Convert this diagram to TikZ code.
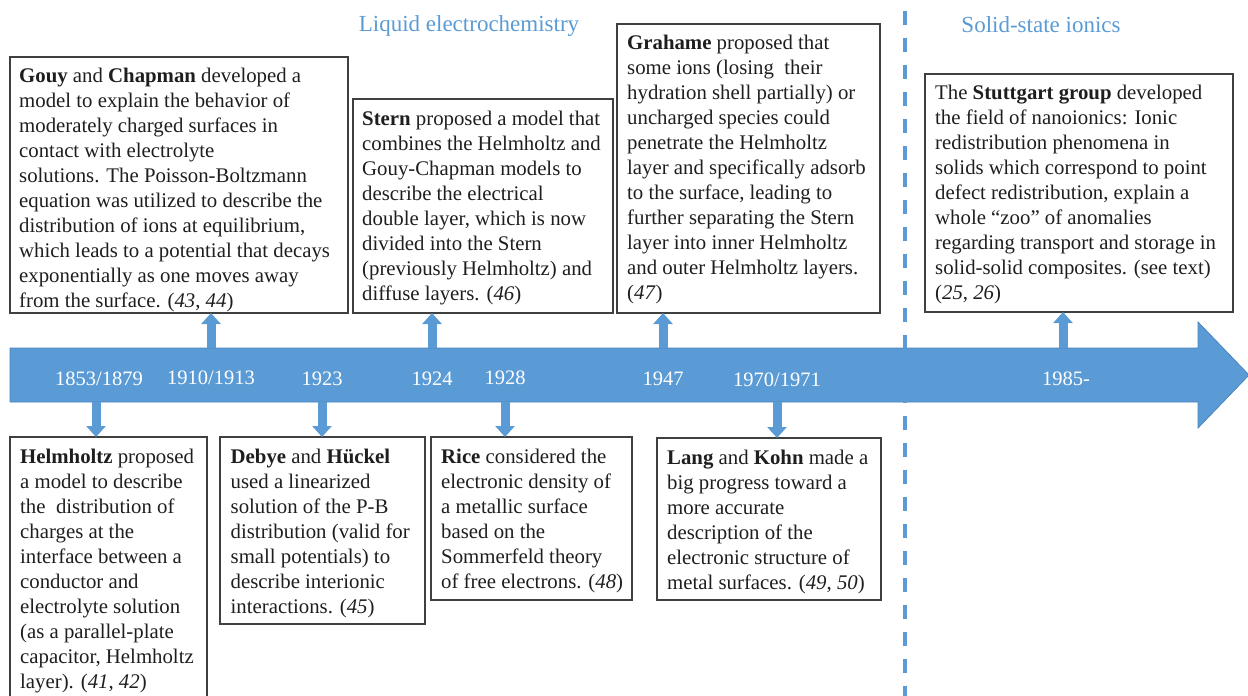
\documentclass[tikz,border=0pt]{standalone}
\usepackage{fontspec}
\setmainfont{Liberation Serif}
\usetikzlibrary{arrows.meta,calc}
\definecolor{barblue}{HTML}{5B9BD5}
\definecolor{barline}{HTML}{4A84BE}
\definecolor{boxline}{HTML}{404040}
\definecolor{txtcol}{HTML}{1E1E1E}
\begin{document}
\begin{tikzpicture}[x=1pt,y=-1pt,
  box/.style={draw=boxline, line width=1.1pt, inner sep=0pt, outer sep=0pt, anchor=north west},
  txt/.style={inner sep=0pt, anchor=north west, align=left, text=txtcol, font=\fontsize{20.8}{25}\selectfont},
  year/.style={text=white, font=\fontsize{20.5}{24}\selectfont, anchor=base, inner sep=0pt},
  title/.style={text=barblue, font=\fontsize{23}{28}\selectfont, anchor=base, inner sep=0pt},
  blk/.style={draw=barblue, line width=9pt, -{Triangle[width=19pt,length=11pt]}},
  divider/.style={draw=barblue, line width=3.5pt, dash pattern=on 14pt off 13pt}
]
\useasboundingbox (0,0) rectangle (1248,696);
\clip (0,0) rectangle (1248,696);

% main timeline arrow
\fill[barblue, draw=barline, line width=0.8pt]
  (10,348) -- (1198,348) -- (1198,322) -- (1249,375) -- (1198,428) -- (1198,402) -- (10,402) -- cycle;
\coordinate (bartop) at (0,348);
\coordinate (barbot) at (0,402);

% divider
\coordinate (dtop) at (905,11);
\coordinate (dbot) at (905,700);
\draw[divider] (dtop) -- (dbot);

% titles
\node[title] (liq) at (469,31) {Liquid electrochemistry};
\node[title] (sol) at (1041,32) {Solid-state ionics};

% years
\node[year] (y1853) at (99,385) {1853/1879};
\node[year] (y1910) at (211,384) {1910/1913};
\node[year] (y1923) at (322,385) {1923};
\node[year] (y1924) at (432,385) {1924};
\node[year] (y1928) at (505,384) {1928};
\node[year] (y1947) at (663,385) {1947};
\node[year] (y1970) at (777,386) {1970/1971};
\node[year] (y1985) at (1066,385) {1985-};

% boxes
\node[box, minimum width=338pt, minimum height=256pt] (gouy) at (10,57) {};
\node[box, minimum width=260pt, minimum height=214pt] (stern) at (353,99) {};
\node[box, minimum width=263pt, minimum height=289pt] (grahame) at (617,24) {};
\node[box, minimum width=308pt, minimum height=238pt] (stutt) at (925,74) {};
\node[box, minimum width=197pt, minimum height=290pt] (helm) at (10,437) {};
\node[box, minimum width=205pt, minimum height=187pt] (debye) at (220,437) {};
\node[box, minimum width=201pt, minimum height=163pt] (rice) at (431,437) {};
\node[box, minimum width=224pt, minimum height=162pt] (lang) at (657,438) {};

% texts
\node[txt] (gouyt) at ($(gouy.north west)+(9,5)$) {\rule{0pt}{20pt}\textbf{Gouy} and \textbf{Chapman} developed a\\
model to explain the behavior of\\
moderately charged surfaces in\\
contact with electrolyte\\
solutions. The Poisson-Boltzmann\\
equation was utilized to describe the\\
distribution of ions at equilibrium,\\
which leads to a potential that decays\\
exponentially as one moves away\\
from the surface. (\textit{43}, \textit{44})};

\node[txt] (sternt) at ($(stern.north west)+(9,6)$) {\rule{0pt}{20pt}\textbf{Stern} proposed a model that\\
combines the Helmholtz and\\
Gouy-Chapman models to\\
describe the electrical\\
double layer, which is now\\
divided into the Stern\\
(previously Helmholtz) and\\
diffuse layers. (\textit{46})};

\node[txt] (grahamet) at ($(grahame.north west)+(10,5.5)$) {\rule{0pt}{20pt}\textbf{Grahame} proposed that\\
some ions (losing\ \ their\\
hydration shell partially) or\\
uncharged species could\\
penetrate the Helmholtz\\
layer and specifically adsorb\\
to the surface, leading to\\
further separating the Stern\\
layer into inner Helmholtz\\
and outer Helmholtz layers.\\
(\textit{47})};

\node[txt] (stuttt) at ($(stutt.north west)+(10,5.5)$) {\rule{0pt}{20pt}The \textbf{Stuttgart group} developed\\
the field of nanoionics: Ionic\\
redistribution phenomena in\\
solids which correspond to point\\
defect redistribution, explain a\\
whole “zoo” of anomalies\\
regarding transport and storage in\\
solid-solid composites. (see text)\\
(\textit{25}, \textit{26})};

\node[txt] (helmt) at ($(helm.north west)+(10,6)$) {\rule{0pt}{20pt}\textbf{Helmholtz} proposed\\
a model to describe\\
the\ \ distribution of\\
charges at the\\
interface between a\\
conductor and\\
electrolyte solution\\
(as a parallel-plate\\
capacitor, Helmholtz\\
layer). (\textit{41}, \textit{42})};

\node[txt] (debyet) at ($(debye.north west)+(10.5,6)$) {\rule{0pt}{20pt}\textbf{Debye} and \textbf{Hückel}\\
used a linearized\\
solution of the P-B\\
distribution (valid for\\
small potentials) to\\
describe interionic\\
interactions. (\textit{45})};

\node[txt] (ricet) at ($(rice.north west)+(10,6)$) {\rule{0pt}{20pt}\textbf{Rice} considered the\\
electronic density of\\
a metallic surface\\
based on the\\
Sommerfeld theory\\
of free electrons. (\textit{48})};

\node[txt] (langt) at ($(lang.north west)+(10,6)$) {\rule{0pt}{20pt}\textbf{Lang} and \textbf{Kohn} made a\\
big progress toward a\\
more accurate\\
description of the\\
electronic structure of\\
metal surfaces. (\textit{49}, \textit{50})};

% connectors: up arrows
\draw[blk] (y1910.base |- bartop) -- (y1910.base |- gouy.south);
\draw[blk] (y1924.base |- bartop) -- (y1924.base |- stern.south);
\draw[blk] (y1947.base |- bartop) -- (y1947.base |- grahame.south);
\draw[blk] ($(y1985.base |- bartop)+(-3,0)$) -- ($(y1985.base |- stutt.south)+(-3,0)$);
% down arrows
\draw[blk] ($(y1853.base |- barbot)+(-3,0)$) -- ($(y1853.base |- helm.north)+(-3,0)$);
\draw[blk] (y1923.base |- barbot) -- (y1923.base |- debye.north);
\draw[blk] (y1928.base |- barbot) -- (y1928.base |- rice.north);
\draw[blk] (y1970.base |- barbot) -- (y1970.base |- lang.north);
\end{tikzpicture}
\end{document}
